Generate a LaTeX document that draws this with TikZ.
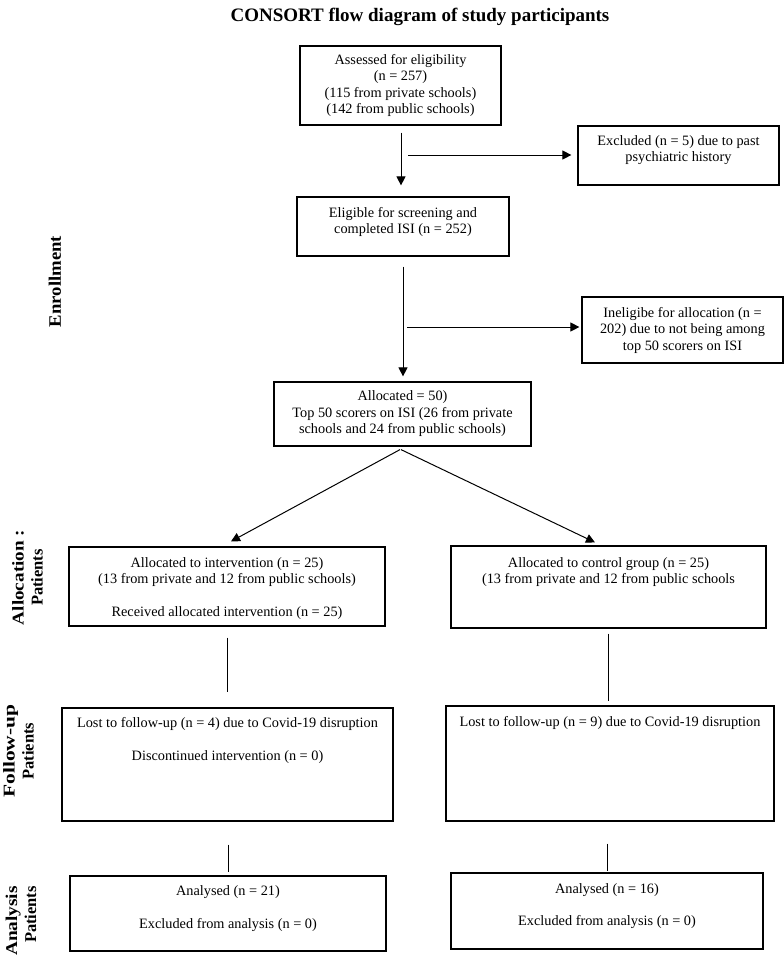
\documentclass[tikz,border=0pt]{standalone}
\usepackage{fontspec}
\setmainfont{Liberation Serif}
\usetikzlibrary{arrows.meta,calc}
\begin{document}
\begin{tikzpicture}[x=1pt,y=-1pt,
  box/.style={draw, line width=1.2pt, rectangle, inner sep=0pt, align=center, font=\fontsize{14.3}{16.5}\selectfont},
  lab/.style={anchor=north, inner sep=0pt, align=center, font=\fontsize{14.3}{16.5}\selectfont},
  arr/.style={line width=1pt, -{Triangle[length=9pt,width=9pt]}},
  conn/.style={line width=1pt},
  side/.style={rotate=90, inner sep=0pt, align=center, font=\fontsize{16.5}{19}\selectfont\bfseries}
]
\fill[white] (0,0) rectangle (784,956);
\useasboundingbox (0,0) rectangle (784,956);

\node[font=\fontsize{19}{22}\selectfont\bfseries] (title) at (420,17) {CONSORT flow diagram of study participants};

\node[box, minimum width=201, minimum height=79] (A) at (400.5,85.5)
  {Assessed for eligibility\\(n = 257)\\(115 from private schools)\\(142 from public schools)};
\node[box, minimum width=201, minimum height=59,
  label={[lab, yshift=-9.5pt]north:{Excluded (n = 5) due to past\\psychiatric history}}] (X) at (678.5,155.5) {};
\node[box, minimum width=212, minimum height=59,
  label={[lab, yshift=-10.5pt]north:{Eligible for screening and\\completed ISI (n = 252)}}] (B) at (403,226.5) {};
\node[box, minimum width=201, minimum height=66] (N) at (682.5,330)
  {Ineligibe for allocation (n =\\202) due to not being among\\top 50 scorers on ISI};
\node[box, minimum width=257, minimum height=64] (C) at (402.5,414)
  {Allocated = 50)\\Top 50 scorers on ISI (26 from private\\schools and 24 from public schools)};
\node[box, minimum width=316, minimum height=79,
  label={[lab, yshift=-10.5pt]north:{Allocated to intervention (n = 25)\\(13 from private and 12 from public schools)\\[16.5pt]Received allocated intervention (n = 25)}}] (D) at (227,586.5) {};
\node[box, minimum width=315, minimum height=82,
  label={[lab, yshift=-11.5pt]north:{Allocated to control group (n = 25)\\(13 from private and 12 from public schools}}] (E) at (608.5,587) {};
\node[box, minimum width=331, minimum height=113,
  label={[lab, yshift=-9.5pt]north:{Lost to follow-up (n = 4) due to Covid-19 disruption\\[16.5pt]Discontinued intervention (n = 0)}}] (F) at (227.5,764.5) {};
\node[box, minimum width=328, minimum height=115,
  label={[lab, yshift=-10.5pt]north:{Lost to follow-up (n = 9) due to Covid-19 disruption}}] (G) at (610,763.5) {};
\node[box, minimum width=316, minimum height=75,
  label={[lab, yshift=-9.5pt]north:{Analysed (n = 21)\\[16.5pt]Excluded from analysis (n = 0)}}] (H) at (228,913.5) {};
\node[box, minimum width=312, minimum height=76,
  label={[lab, yshift=-10.5pt]north:{Analysed (n = 16)\\[15.5pt]Excluded from analysis (n = 0)}}] (I) at (607,911) {};

\node[side, font=\fontsize{17.5}{19}\selectfont\bfseries] (enr) at (55,281.5) {\scalebox{1.07}[1]{Enrollment}};
\node[side] (alloc) at (27.5,577.5) {\scalebox{1.16}[1]{Allocation :}\\Patients};
\node[side] (fol) at (18.5,751) {\scalebox{1.3}[1]{Follow-up}\\Patients};
\node[side, align=right] (ana) at (21,921) {\scalebox{1.17}[1]{Analysis}\\Patients};

\draw[arr] ($(A.south)+(0.5,7)$) -- ($(B.north)+(-2,-11)$);
\coordinate (h1) at (408,155);
\draw[arr] (h1) -- ($(X.west)+(-6,-0.5)$);
\draw[arr] ($(B.south)+(0,10)$) -- ($(C.north)+(0.5,-5)$);
\coordinate (h2) at (407,327);
\draw[arr] (h2) -- ($(N.west)+(-2,-3)$);
\draw[arr] ($(C.south)+(-2.5,3)$) -- ($(D.north)+(4,-5)$);
\draw[arr] ($(C.south)+(-1.5,3)$) -- ($(E.north)+(-13.5,-3)$);
\draw[conn] ($(D.south)+(0,11)$) -- ($(F.north)+(-0.5,-15)$);
\draw[conn] ($(E.south)+(0,5)$) -- ($(G.north)+(-1.5,-4)$);
\draw[conn] ($(F.south)+(0.5,23)$) -- ($(H.north)+(0,-3)$);
\draw[conn] ($(G.south)+(-3,22)$) -- ($(I.north)+(0,-1)$);
\end{tikzpicture}
\end{document}
